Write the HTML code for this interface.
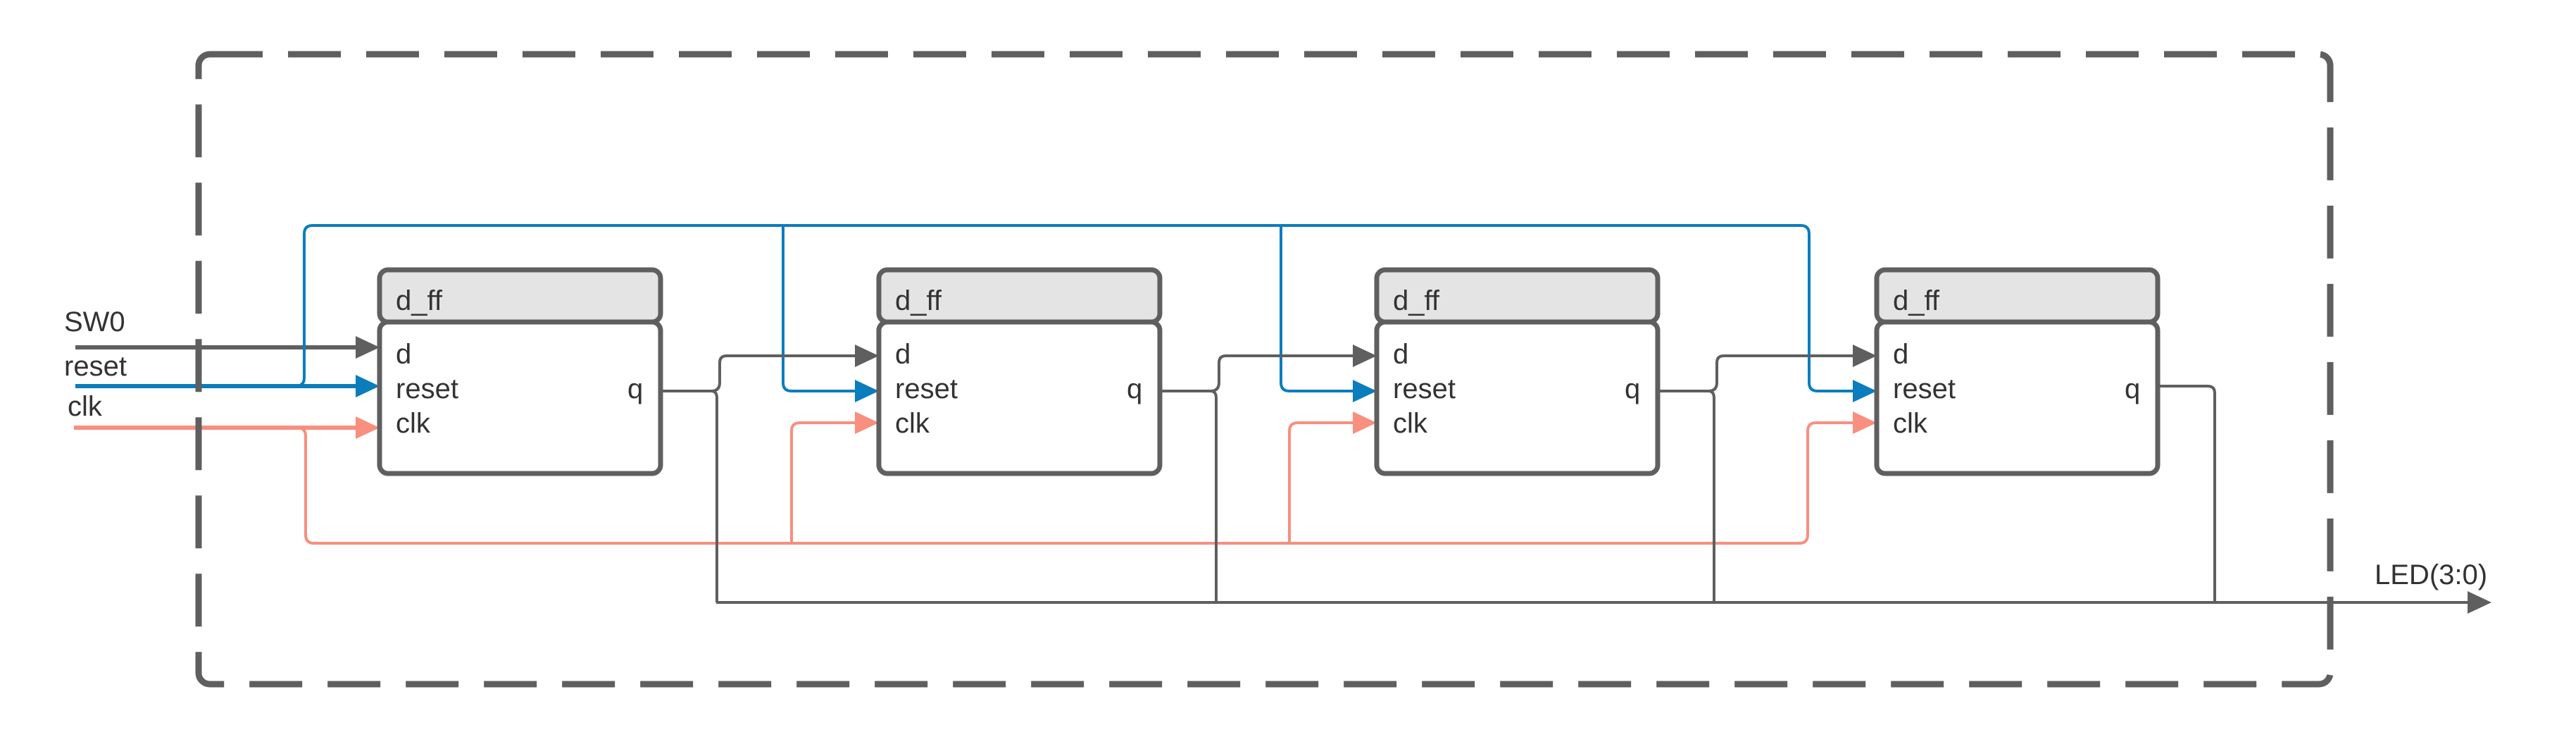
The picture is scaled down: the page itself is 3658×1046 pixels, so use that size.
<!DOCTYPE html>
<html><head><meta charset="utf-8"><style>
html,body{margin:0;padding:0;background:#fff}
svg{display:block}
text{font-family:"Liberation Sans",sans-serif;fill:#333;font-size:40px}
</style></head><body>
<svg width="3658" height="1046" viewBox="0 0 3658 1046">
<defs>
<marker id="ag" markerWidth="10" markerHeight="8" refX="10" refY="4" orient="auto" markerUnits="userSpaceOnUse" viewBox="0 0 10 8"><path d="M0,0L10,4L0,8Z" fill="#5f5f5f"/></marker>
</defs>
<g id="root"></g>
<rect x="282" y="77" width="3027" height="894" rx="16" fill="none" stroke="#5f5f5f" stroke-width="9" stroke-dasharray="75 36"/>
<text x="91" y="470">SW0</text>
<text x="91" y="533">reset</text>
<text x="96" y="590">clk</text>
<text x="3372" y="829">LED(3:0)</text>
</svg>
<script>
const blockX=[539,1248,1955,2665];
const blockW=399;
const gray='#5f5f5f',blue='#0b7dbd',sal='#f88f7f';
const yD=505,yR=555,yC=600,yTop=320,ySal=771,yLed=855;
const root=document.getElementById('root');
const NS='http://www.w3.org/2000/svg';
function el(tag,attrs,name){const e=document.createElementNS(NS,tag);for(const k in attrs)e.setAttribute(k,attrs[k]);


root.appendChild(e);return e;}
function line(d,color,w,name){return el('path',{d:d,fill:'none',stroke:color,'stroke-width':w,'stroke-linejoin':'round'},name);}
function arrow(x,y,color,name){return el('path',{d:`M${x-34},${y-16}L${x},${y}L${x-34},${y+16}Z`,fill:color},name);}
// input lines
line(`M107,${yD-12}H${blockX[0]-30}`,gray,6,'sw0-wire');arrow(blockX[0],yD-12,gray,'sw0-arrow');
line(`M107,${yR-7}H${blockX[0]-30}`,blue,6,'reset-input-wire');arrow(blockX[0],yR-7,blue,'reset-arrow-1');
line(`M105,607H${blockX[0]-30}`,sal,6,'clk-input-wire');arrow(blockX[0],607,sal,'clk-arrow-1');
// reset bus
line(`M420,${yR-7}Q432,${yR-7} 432,${yR-19}V${yTop+12}Q432,${yTop} 444,${yTop}H2557Q2569,${yTop} 2569,${yTop+12}V${yR-12}Q2569,${yR} 2581,${yR}H${blockX[3]-30}`,blue,4,'reset-bus');
[1,2].forEach(i=>{const x=blockX[i]-136;line(`M${x},${yTop}V${yR-12}Q${x},${yR} ${x+12},${yR}H${blockX[i]-30}`,blue,4,'reset-drop-'+i);arrow(blockX[i],yR,blue,'reset-arrow-'+(i+1));});
arrow(blockX[3],yR,blue,'reset-arrow-4');
// clk bus
line(`M422,607Q434,607 434,619V${ySal-12}Q434,${ySal} 446,${ySal}H2555Q2567,${ySal} 2567,${ySal-12}V${yC+12}Q2567,${yC} 2579,${yC}H${blockX[3]-30}`,sal,4,'clk-bus');
[1,2].forEach(i=>{const x=blockX[i]-124;line(`M${x},${ySal}V${yC+12}Q${x},${yC} ${x+12},${yC}H${blockX[i]-30}`,sal,4,'clk-rise-'+i);arrow(blockX[i],yC,sal,'clk-arrow-'+(i+1));});
arrow(blockX[3],yC,sal,'clk-arrow-4');
// q outputs
[0,1,2].forEach(i=>{const x0=blockX[i]+blockW,xj=x0+80;
line(`M${x0},${yR}H${xj-8}Q${xj},${yR} ${xj},${yR+10}V${yLed}`,gray,4,'q-wire-'+(i+1));
line(`M${xj-8},${yR}Q${xj+4},${yR} ${xj+4},${yR-12}V${yD+10}Q${xj+4},${yD} ${xj+14},${yD}H${blockX[i+1]-30}`,gray,4,'q-to-d-'+(i+2));
arrow(blockX[i+1],yD,gray,'d-arrow-'+(i+2));});
{const x0=blockX[3]+blockW,xj=3145;line(`M${x0},${yR-7}H${xj-10}Q${xj},${yR-7} ${xj},${yR+3}V${yLed}`,gray,4,'q-wire-4');}
line(`M1017,${yLed}H3505`,gray,4,'led-bus');arrow(3538,yLed,gray,'led-arrow');
// blocks
blockX.forEach((x,i)=>{
el('rect',{x:x,y:457,width:blockW,height:215,rx:12,fill:'#fff',stroke:gray,'stroke-width':7},'d-ff-body-'+(i+1));
el('rect',{x:x,y:383,width:blockW,height:74,rx:12,fill:'#e4e4e4',stroke:gray,'stroke-width':7},'d-ff-header-'+(i+1));
const t=(s,tx,ty,n)=>{const e=el('text',{x:tx,y:ty},n);e.textContent=s;};
t('d_ff',x+23,440,'d-ff-title-'+(i+1));
t('d',x+23,516,'pin-d-'+(i+1));
t('reset',x+23,565,'pin-reset-'+(i+1));
t('clk',x+23,614,'pin-clk-'+(i+1));
t('q',x+352,565,'pin-q-'+(i+1));
});
</script>
</body></html>
